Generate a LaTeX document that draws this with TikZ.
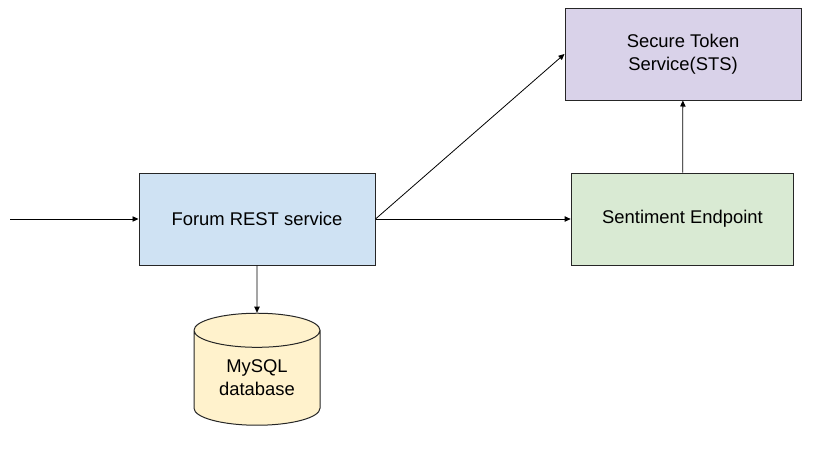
\documentclass[tikz,border=0pt]{standalone}
\usepackage{fontspec}
\setmainfont{Liberation Sans}
\usetikzlibrary{positioning, arrows.meta, shapes.geometric}

\definecolor{restblue}{HTML}{CFE2F3}
\definecolor{stspurple}{HTML}{D9D2E9}
\definecolor{sentgreen}{HTML}{D9EAD3}
\definecolor{dbyellow}{HTML}{FFF2CC}

\begin{document}
\begin{tikzpicture}[
  x=0.75pt, y=-0.75pt,
  every node/.style={font=\fontsize{13.8}{17.25}\selectfont, align=center},
  svc/.style={draw=black!85, line width=0.75pt, minimum width=177pt, minimum height=69pt, inner sep=0pt},
  flow/.style={-{Triangle[length=4.5pt,width=4pt]}, line width=0.6pt}
]
\useasboundingbox (0,0) rectangle (816,450);
% services
\node[svc, fill=restblue] (forum) at (257,219) {Forum REST service};
\node[svc, fill=stspurple] (sts) at (683,54) {Secure Token\\Service(STS)};
\node[svc, fill=sentgreen, minimum width=167pt] (sentiment) at (682.5,219) {Sentiment Endpoint};
% database
\node[cylinder, shape border rotate=90, aspect=0.45, draw=black!85, line width=0.75pt,
  fill=dbyellow, minimum width=94.5pt, minimum height=84pt, inner sep=0pt] (mysql) at (257,378) {MySQL\\database};
% calls
\coordinate (client) at (10,219);
\draw[flow] (client) -- (forum);
\draw[flow] (forum) -- (sentiment);
\draw[flow] (forum.east) -- (sts.west);
\draw[flow] (sentiment) -- (sts);
\draw[flow] (forum) -- (mysql);
\end{tikzpicture}
\end{document}
